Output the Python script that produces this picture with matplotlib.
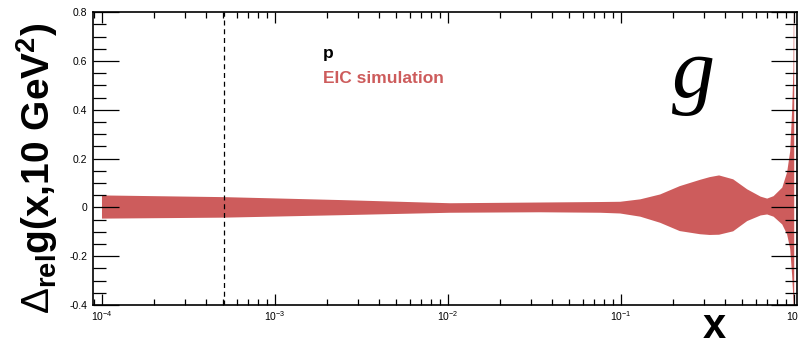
import numpy as np
import matplotlib
matplotlib.use("Agg")
import matplotlib.pyplot as plt
from matplotlib.ticker import LogLocator, LogFormatterMathtext, MultipleLocator, FixedFormatter

plt.rcParams['font.family'] = ['Liberation Sans', 'DejaVu Sans']
plt.rcParams['mathtext.fontset'] = 'custom'
plt.rcParams['mathtext.rm'] = 'Liberation Sans'
plt.rcParams['mathtext.bf'] = 'Liberation Sans:bold'
plt.rcParams['mathtext.it'] = 'Liberation Sans:italic'

# relative uncertainty band of the gluon helicity distribution at Q^2 = 10 GeV^2
x_vals = [1.0e-4, 5.1e-4, 2.4e-3, 1.03e-2, 0.034, 0.0757, 0.0987, 0.129, 0.168,
          0.218, 0.286, 0.325, 0.368, 0.444, 0.535, 0.64, 0.698, 0.76, 0.853,
          0.91, 0.948, 0.973, 0.99, 0.995, 1.0]
band_hi = [0.049, 0.042, 0.030, 0.017, 0.020, 0.022, 0.023, 0.033, 0.053,
           0.087, 0.113, 0.124, 0.131, 0.115, 0.074, 0.044, 0.036, 0.046, 0.081,
           0.144, 0.23, 0.40, 0.57, 0.80, 1.10]
band_lo = [-0.046, -0.042, -0.032, -0.022, -0.020, -0.022, -0.025, -0.038, -0.063,
           -0.097, -0.110, -0.113, -0.112, -0.098, -0.056, -0.033, -0.029, -0.038, -0.070,
           -0.111, -0.17, -0.28, -0.38, -0.43, -0.55]

x_min_cut = 5.1e-4
band_color = '#CD5C5C'

fig = plt.figure(figsize=(7.98, 3.47), dpi=100)
ax = fig.add_axes([0.1165, 0.121, 0.882, 0.844])

ax.fill_between(x_vals, band_lo, band_hi, color=band_color, lw=0)
ax.axvline(x_min_cut, color='black', ls=(0, (4, 3)), lw=0.9)

ax.set_xscale('log')
ax.set_xlim(8.87e-5, 1.035)
ax.set_ylim(-0.4, 0.8)

ax.xaxis.set_major_locator(LogLocator(base=10, numticks=10))
ax.xaxis.set_minor_locator(LogLocator(base=10, subs=np.arange(2, 10), numticks=20))
ax.xaxis.set_major_formatter(LogFormatterMathtext())
ax.set_yticks([-0.4, -0.2, 0, 0.2, 0.4, 0.6, 0.8])
ax.yaxis.set_major_formatter(FixedFormatter(['-0.4', '-0.2', '0', '0.2', '0.4', '0.6', '0.8']))
ax.yaxis.set_minor_locator(MultipleLocator(0.05))

ax.tick_params(which='both', direction='in', top=True, right=True, width=0.9,
               labelsize=7.5, colors='black')
ax.tick_params(axis='y', which='major', length=19, pad=4)
ax.tick_params(axis='y', which='minor', length=9)
ax.tick_params(axis='x', which='major', length=8, pad=3)
ax.tick_params(axis='x', which='minor', length=4)
for s in ax.spines.values():
    s.set_linewidth(1.2)

# y title drawn as figure text so it can be centred freely
fig.text(0.047, 0.515, r'$\Delta_{\mathbf{rel}}\mathbf{g(x{,}10\ GeV^2)}$', fontsize=28,
         rotation=90, ha='center', va='center')
fig.text(0.895, 0.0, 'x', fontsize=30, fontweight='bold', ha='center', va='bottom')

ax.text(0.327, 0.86, 'p', transform=ax.transAxes, fontsize=12.5, fontweight='bold',
        color='black', va='center')
ax.text(0.327, 0.775, 'EIC simulation', transform=ax.transAxes, fontsize=12.5,
        fontweight='bold', color=band_color, va='center')
ax.text(0.853, 0.78, 'g', transform=ax.transAxes, fontsize=62, style='italic',
        family='Liberation Serif', ha='center', va='center')

fig.savefig('out.png', dpi=100)
